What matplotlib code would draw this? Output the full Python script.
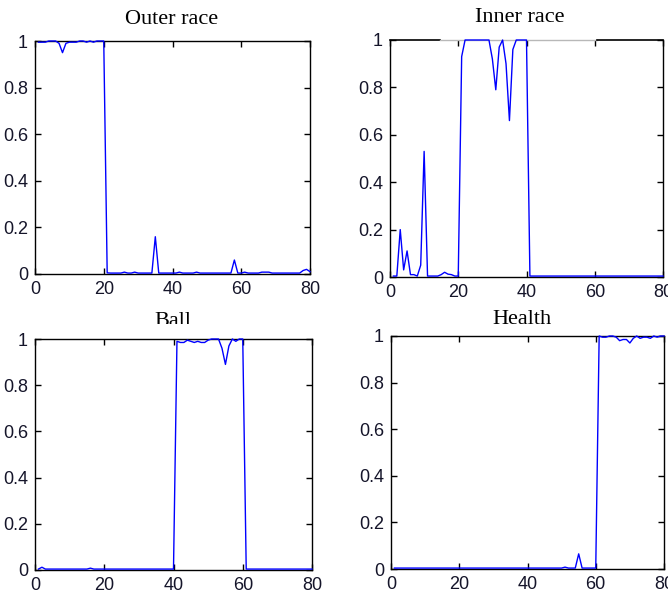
import numpy as np
import matplotlib
matplotlib.use('Agg')
import matplotlib.pyplot as plt
from matplotlib.transforms import Bbox

# sample index (80 test samples per class)
samples = np.arange(1, 81)

outer_race = [
    0.995, 0.995, 0.995, 1.0, 1.0, 1.0, 0.99, 0.95, 0.99, 0.995,
    0.995, 0.995, 1.0, 1.0, 0.995, 1.0, 0.995, 1.0, 1.0, 1.0,
    0.005, 0.004, 0.004, 0.004, 0.004, 0.008, 0.004, 0.004, 0.008, 0.004,
    0.004, 0.004, 0.004, 0.004, 0.16, 0.004, 0.004, 0.004, 0.004, 0.004,
    0.004, 0.008, 0.004, 0.004, 0.004, 0.004, 0.008, 0.004, 0.004, 0.004,
    0.004, 0.004, 0.004, 0.004, 0.004, 0.004, 0.004, 0.06, 0.004, 0.004,
    0.008, 0.004, 0.004, 0.004, 0.004, 0.008, 0.008, 0.008, 0.004, 0.004,
    0.004, 0.004, 0.004, 0.004, 0.004, 0.004, 0.004, 0.015, 0.02, 0.01,
]

inner_race = [
    0.004, 0.004, 0.2, 0.03, 0.11, 0.01, 0.01, 0.004, 0.05, 0.53,
    0.004, 0.004, 0.004, 0.004, 0.01, 0.02, 0.012, 0.01, 0.004, 0.004,
    0.93, 1.0, 1.0, 1.0, 1.0, 1.0, 1.0, 1.0, 1.0, 0.92,
    0.79, 0.97, 1.0, 0.9, 0.66, 0.96, 1.0, 1.0, 1.0, 1.0,
    0.004, 0.004, 0.004, 0.004, 0.004, 0.004, 0.004, 0.004, 0.004, 0.004,
    0.004, 0.004, 0.004, 0.004, 0.004, 0.004, 0.004, 0.004, 0.004, 0.004,
    0.004, 0.004, 0.004, 0.004, 0.004, 0.004, 0.004, 0.004, 0.004, 0.004,
    0.004, 0.004, 0.004, 0.004, 0.004, 0.004, 0.004, 0.004, 0.004, 0.004,
]

ball = [
    0.004, 0.012, 0.004, 0.004, 0.004, 0.004, 0.004, 0.004, 0.004, 0.004,
    0.004, 0.004, 0.004, 0.004, 0.004, 0.008, 0.004, 0.004, 0.004, 0.004,
    0.004, 0.004, 0.004, 0.004, 0.004, 0.004, 0.004, 0.004, 0.004, 0.004,
    0.004, 0.004, 0.004, 0.004, 0.004, 0.004, 0.004, 0.004, 0.004, 0.004,
    0.99, 0.985, 0.985, 0.995, 0.99, 0.985, 0.99, 0.985, 0.985, 0.995,
    1.0, 1.0, 1.0, 0.96, 0.89, 0.97, 1.0, 0.99, 1.0, 1.0,
    0.004, 0.004, 0.004, 0.004, 0.004, 0.004, 0.004, 0.004, 0.004, 0.004,
    0.004, 0.004, 0.004, 0.004, 0.004, 0.004, 0.004, 0.004, 0.004, 0.004,
]

health = [
    0.004, 0.004, 0.004, 0.004, 0.004, 0.004, 0.004, 0.004, 0.004, 0.004,
    0.004, 0.004, 0.004, 0.004, 0.004, 0.004, 0.004, 0.004, 0.004, 0.004,
    0.004, 0.004, 0.004, 0.004, 0.004, 0.004, 0.004, 0.004, 0.004, 0.004,
    0.004, 0.004, 0.004, 0.004, 0.004, 0.004, 0.004, 0.004, 0.004, 0.004,
    0.004, 0.004, 0.004, 0.004, 0.004, 0.004, 0.004, 0.004, 0.004, 0.004,
    0.008, 0.004, 0.004, 0.004, 0.065, 0.004, 0.004, 0.004, 0.004, 0.004,
    1.0, 0.995, 0.995, 1.0, 1.0, 0.995, 0.98, 0.985, 0.985, 0.97,
    0.99, 1.0, 0.99, 0.995, 0.995, 0.99, 1.0, 0.995, 1.0, 1.0,
]

titles = ['Outer race', 'Inner race', 'Ball', 'Health']
series = [outer_race, inner_race, ball, health]
x_ticks = [0, 20, 40, 60, 80]
y_ticks = [0, 0.2, 0.4, 0.6, 0.8, 1.0]
y_labels = ['0', '0.2', '0.4', '0.6', '0.8', '1']

W, H = 668, 592
fig = plt.figure(figsize=(W / 100, H / 100), dpi=100)

# axes boxes in pixels: left, top, right, bottom
boxes = [
    (35, 41, 310, 274),
    (390, 40, 663, 277),
    (35, 339, 312, 570),
    (391, 336, 664, 569),
]
title_pos = [(172, 20), (520, 18), (173, 321), (522, 319)]

for i, (vals, title) in enumerate(zip(series, titles)):
    l, t, r, b = boxes[i]
    ax = fig.add_axes([l / W, 1 - b / H, (r - l) / W, (b - t) / H])
    ax.plot(samples, vals, color='#0000ff', lw=1.0, zorder=3, clip_on=False)
    ax.set_xlim(0, 80)
    ax.set_ylim(0, 1)
    ax.set_xticks(x_ticks)
    ax.set_yticks(y_ticks)
    ax.set_yticklabels(y_labels)
    ax.tick_params(direction='in', length=4, width=1, top=True, right=True,
                   labelsize=13, labelcolor='#15152a', pad=5)
    for lab in ax.get_xticklabels() + ax.get_yticklabels():
        lab.set_family('Liberation Sans')
    for sp in ax.spines.values():
        sp.set_linewidth(1.0)
        sp.set_color('black')

    if i == 1:
        # top border is partly greyed out in this panel
        ax.spines['top'].set_visible(False)
        ax.axhline(1, xmin=0, xmax=0.183, color='black', lw=1.2, clip_on=False, zorder=2.5)
        ax.axhline(1, xmin=0.183, xmax=0.76, color='#b8b8b8', lw=1.0, clip_on=False, zorder=2.5)
        ax.axhline(1, xmin=0.76, xmax=1, color='black', lw=1.2, clip_on=False, zorder=2.5)

    tx, ty = title_pos[i]
    txt = fig.text(tx / W, 1 - ty / H, title, ha='center', va='center',
                   family='Liberation Serif', fontsize=16, color='black')
    if i == 2:
        # lower part of this title is hidden behind the plot area
        txt.set_clip_box(Bbox.from_extents(0, H - 324, W, H))
        txt.set_clip_on(True)

fig.savefig('out.png', dpi=100)
